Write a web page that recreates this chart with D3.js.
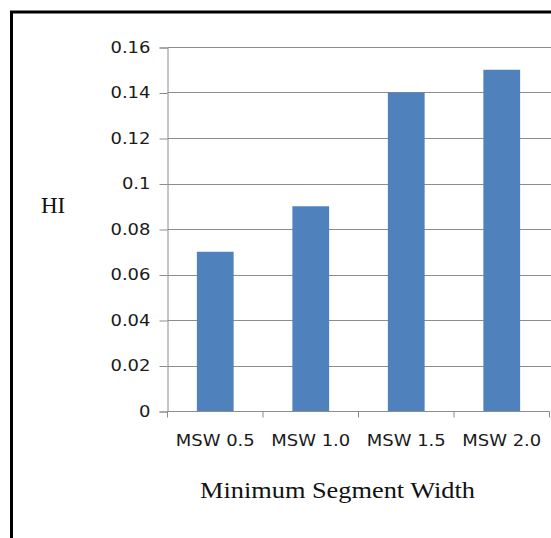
<!DOCTYPE html>
<html>
<head>
<meta charset="utf-8">
<script src="https://cdn.jsdelivr.net/npm/d3@7"></script>
<style>
  html, body { margin: 0; padding: 0; background: #fff; overflow: hidden; }
  svg { display: block; }
</style>
</head>
<body>
<div id="chart"></div>
<script>
// Harmonic index per minimum segment width setting
const categories = ["MSW 0.5", "MSW 1.0", "MSW 1.5", "MSW 2.0"];
const values = [0.07, 0.09, 0.14, 0.15];
const yTicks = [0, 0.02, 0.04, 0.06, 0.08, 0.1, 0.12, 0.14, 0.16];

const W = 551, H = 538;
const plot = { left: 167.5, right: 549.5, top: 47, bottom: 411 };
const labelFont = "'DejaVu Sans', sans-serif";
const labelStretch = 1.16;

const svg = d3.select("#chart").append("svg")
  .attr("width", W).attr("height", H);

// outer frame: top and left edges (the rest runs off the page)
svg.append("path")
  .attr("d", `M${W},12 H11.5 V${H}`)
  .attr("fill", "none").attr("stroke", "#000").attr("stroke-width", 3);

const x = d3.scaleBand()
  .domain(categories)
  .range([plot.left, plot.right])
  .paddingInner(0.615)
  .paddingOuter(0.3075);

const y = d3.scaleLinear()
  .domain([0, 0.16])
  .range([plot.bottom, plot.top]);

// horizontal gridlines
svg.append("g")
  .selectAll("line")
  .data(yTicks.filter(d => d > 0))
  .join("line")
  .attr("x1", plot.left).attr("x2", W)
  .attr("y1", d => Math.round(y(d)) + 0.5)
  .attr("y2", d => Math.round(y(d)) + 0.5)
  .attr("stroke", "#8c8c8c").attr("stroke-width", 1);

// bars
svg.append("g")
  .selectAll("rect")
  .data(values)
  .join("rect")
  .attr("x", (d, i) => x(categories[i]))
  .attr("width", x.bandwidth())
  .attr("y", d => y(d))
  .attr("height", d => y(0) - y(d))
  .attr("fill", "#4f81bd");

// widen label glyphs a little
function stretch(sel) {
  sel.each(function () {
    const len = this.getComputedTextLength();
    d3.select(this)
      .attr("textLength", len * labelStretch)
      .attr("lengthAdjust", "spacingAndGlyphs");
  });
}

// y axis
const yAxis = d3.axisLeft(y)
  .tickValues(yTicks)
  .tickSize(8)
  .tickPadding(9)
  .tickFormat(d => d3.format("")(+d.toFixed(2)));

const gy = svg.append("g")
  .attr("transform", `translate(${plot.left},0.5)`)
  .call(yAxis);
gy.select(".domain").attr("stroke", "#8c8c8c");
gy.selectAll(".tick line").attr("stroke", "#8c8c8c");
gy.selectAll(".tick text")
  .attr("fill", "#1a1a1a")
  .style("font-family", labelFont)
  .style("font-size", "15.5px")
  .call(stretch);

// x axis: ticks at category boundaries
const xb = d3.scaleBand().domain(categories).range([plot.left, plot.right]);
const gx = svg.append("g")
  .attr("transform", `translate(0,${plot.bottom + 0.5})`);
gx.append("line")
  .attr("x1", plot.left).attr("x2", plot.right)
  .attr("stroke", "#8c8c8c");
gx.selectAll("line.tk")
  .data(categories.map(c => xb(c)).concat([plot.right]))
  .join("line")
  .attr("class", "tk")
  .attr("x1", d => d).attr("x2", d => d)
  .attr("y1", 0).attr("y2", 6)
  .attr("stroke", "#8c8c8c");
gx.selectAll("text")
  .data(categories)
  .join("text")
  .attr("x", d => xb(d) + xb.bandwidth() / 2)
  .attr("y", 34.5)
  .attr("text-anchor", "middle")
  .attr("fill", "#1a1a1a")
  .style("font-family", labelFont)
  .style("font-size", "15.5px")
  .text(d => d)
  .call(stretch);

// axis titles
svg.append("text")
  .attr("x", 41).attr("y", 213)
  .attr("fill", "#111")
  .style("font-family", "'Liberation Serif', 'Times New Roman', serif")
  .style("font-size", "23px")
  .text("HI");

svg.append("text")
  .attr("x", 200).attr("y", 498)
  .attr("textLength", 275)
  .attr("lengthAdjust", "spacingAndGlyphs")
  .attr("fill", "#111")
  .style("font-family", "'Liberation Serif', 'Times New Roman', serif")
  .style("font-size", "23.5px")
  .text("Minimum Segment Width");
</script>
</body>
</html>
